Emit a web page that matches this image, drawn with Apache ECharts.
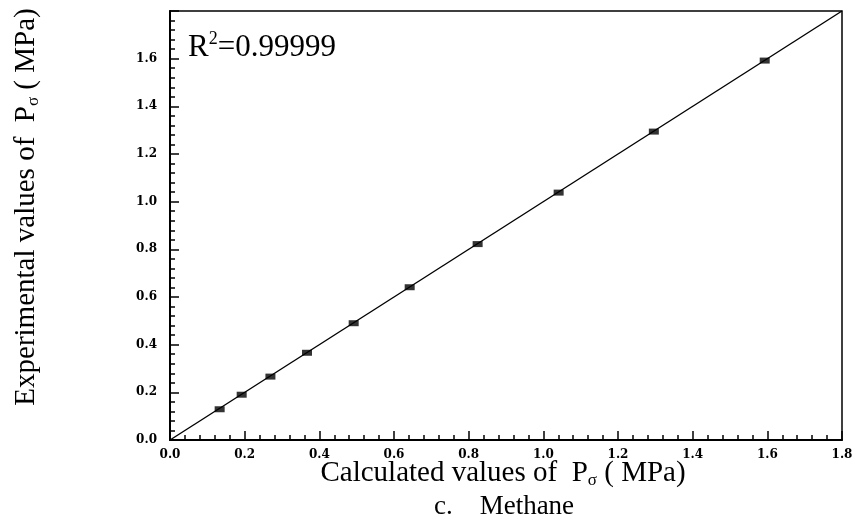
<!DOCTYPE html>
<html>
<head>
<meta charset="utf-8">
<script src="https://cdn.jsdelivr.net/npm/echarts@6/dist/echarts.min.js"></script>
<style>
  html, body { margin: 0; padding: 0; background: #fff; }
  #chart { width: 856px; height: 527px; }
</style>
</head>
<body>
<div id="chart"></div>
<script>
// calculated vs experimental P_sigma (MPa), methane
var calcValues = [0.133, 0.192, 0.269, 0.367, 0.492, 0.642, 0.824, 1.041, 1.296, 1.593];
var expValues  = [0.129, 0.190, 0.266, 0.366, 0.490, 0.641, 0.822, 1.038, 1.294, 1.592];
var fitEnds = [0, 1.8];
var r2Text = '0.99999';

var serif = '"Liberation Serif", "Times New Roman", serif';
var tickFont = '"DejaVu Serif", serif';

var points = calcValues.map(function(v, i){ return [v, expValues[i]]; });

var chart = echarts.init(document.getElementById('chart'));

var axisCommon = {
    type: 'value',
    min: 0,
    max: 1.8,
    interval: 0.2,
    splitLine: { show: false },
    axisLine: { show: true, onZero: false, lineStyle: { color: '#000', width: 2 } },
    axisTick: { show: true, inside: true, length: 9, lineStyle: { color: '#000', width: 1.5 } },
    minorTick: { show: true, splitNumber: 5, length: 5, lineStyle: { color: '#000', width: 1.5 } },
    axisLabel: {
        color: '#000',
        fontFamily: tickFont,
        fontWeight: 'bold',
        fontSize: 12
    }
};

var option = {
    backgroundColor: '#fff',
    animation: false,
    grid: {
        left: 170, right: 14, top: 11, bottom: 87,
        show: true, borderColor: '#000', borderWidth: 1.5
    },
    xAxis: [
        echarts.util.merge({
            position: 'bottom',
            axisLabel: { margin: 9, formatter: function(v){ return v.toFixed(1); } }
        }, axisCommon, false)
    ],
    yAxis: [
        echarts.util.merge({
            position: 'left',
            axisLabel: { margin: 13, formatter: function(v){ return v >= 1.79 ? '' : v.toFixed(1); } }
        }, axisCommon, false)
    ],
    graphic: [
        {
            type: 'text', left: 188, top: 30,
            style: {
                text: '{r|R}{s|2}{r|=' + r2Text + '}',
                rich: {
                    r: { fontFamily: serif, fontSize: 31, fill: '#000', lineHeight: 36 },
                    s: { fontFamily: serif, fontSize: 18, fill: '#000', verticalAlign: 'top', lineHeight: 36 }
                }
            }
        },
        {
            type: 'text', x: 503, y: 473,
            style: {
                text: '{a|Calculated values of  P}{s|σ}{a| ( MPa)}',
                align: 'center', verticalAlign: 'middle',
                rich: {
                    a: { fontFamily: serif, fontSize: 29, fill: '#000', lineHeight: 32 },
                    s: { fontFamily: serif, fontSize: 17, fill: '#000', verticalAlign: 'bottom', lineHeight: 32 }
                }
            }
        },
        {
            type: 'text', x: 504, y: 507,
            style: {
                text: 'c.    Methane',
                align: 'center', verticalAlign: 'middle',
                fontFamily: serif, fontSize: 27, fill: '#000'
            }
        },
        {
            type: 'text', x: 26, y: 207, rotation: Math.PI / 2,
            style: {
                text: '{a|Experimental values of  P}{s|σ}{a| ( MPa)}',
                align: 'center', verticalAlign: 'middle',
                rich: {
                    a: { fontFamily: serif, fontSize: 29, fill: '#000', lineHeight: 32 },
                    s: { fontFamily: serif, fontSize: 17, fill: '#000', verticalAlign: 'bottom', lineHeight: 32 }
                }
            }
        }
    ],
    series: [
        {
            type: 'line',
            data: [[fitEnds[0], fitEnds[0]], [fitEnds[1], fitEnds[1]]],
            symbol: 'none',
            lineStyle: { color: '#000', width: 1.4 },
            z: 2
        },
        {
            type: 'scatter',
            data: points,
            symbol: 'rect',
            symbolSize: [10, 6],
            itemStyle: { color: '#000' },
            z: 3
        }
    ]
};

chart.setOption(option);
</script>
</body>
</html>
